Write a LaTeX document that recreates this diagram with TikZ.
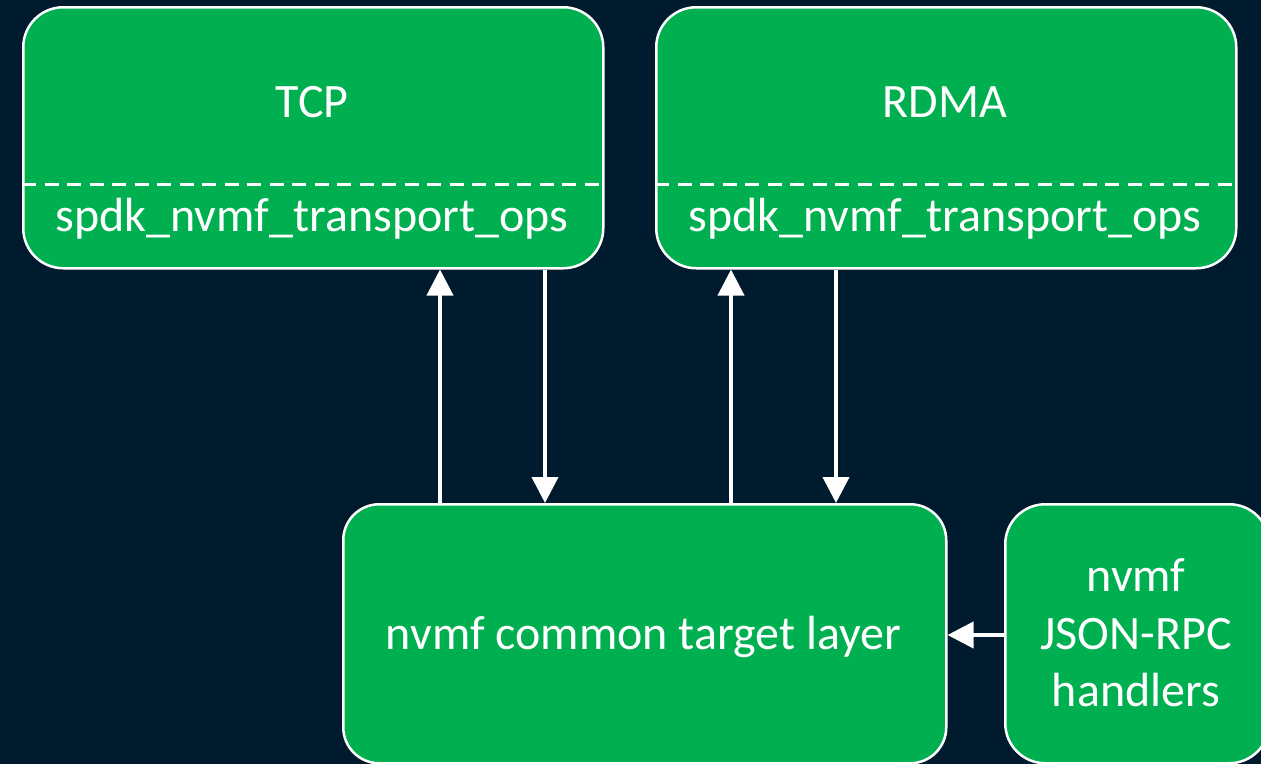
\documentclass[tikz,border=0pt]{standalone}
\usepackage{fontspec}
\setmainfont{Carlito}
\usetikzlibrary{arrows.meta}
\definecolor{navy}{HTML}{001A2E}
\definecolor{boxgreen}{HTML}{00B050}
\begin{document}
\begin{tikzpicture}[x=1pt,y=-1pt,
  block/.style={draw=white, line width=2.5pt, fill=boxgreen, rounded corners=40pt,
    inner sep=0pt, anchor=north west},
  label/.style={text=white, font=\fontsize{48pt}{57.5pt}\selectfont, anchor=base, inner sep=0pt,
    align=center},
  divider/.style={draw=white, line width=3pt, dash pattern=on 14pt off 8.5pt},
  arr/.style={draw=white, line width=4pt, -{Triangle[length=26pt,width=26pt]}}]
\fill[navy] (0,0) rectangle (1261,764);
\useasboundingbox (0,0) rectangle (1261,764);

% transport blocks
\node[block, minimum width=580pt, minimum height=261pt] (tcp) at (22,6) {};
\node[block, minimum width=580pt, minimum height=261pt] (rdma) at (655,6) {};
\node[label] (tcpname) at (312,117) {TCP};
\node[label] (rdmaname) at (945,117) {RDMA};
\node[label] (tcpops) at (312,231) {spdk\_nvmf\_transport\_ops};
\node[label] (rdmaops) at (945,231) {spdk\_nvmf\_transport\_ops};
\coordinate (sep) at (0,184);
\draw[divider] (tcp.west |- sep) -- (tcp.east |- sep);
\draw[divider] (rdma.west |- sep) -- (rdma.east |- sep);

% common layer and RPC handlers
\node[block, minimum width=603pt, minimum height=259pt, rounded corners=36pt] (core) at (342,503) {};
\node[block, minimum width=264pt, minimum height=259pt, rounded corners=40pt] (rpc) at (1004,503) {};
\node[label] (corename) at (643.5,649) {nvmf common target layer};
% base anchor of a multi-line node sits on its last line
\node[label] (rpcname) at (1136,706.5) {nvmf\\JSON-RPC\\handlers};

% connectors
\coordinate (tcpup) at (440,0);
\coordinate (tcpdown) at (545,0);
\coordinate (rdmaup) at (731,0);
\coordinate (rdmadown) at (836,0);
\coordinate (rpcline) at (0,635);
\draw[arr] (tcpup |- core.north) -- (tcpup |- tcp.south);
\draw[arr] (tcpdown |- tcp.south) -- (tcpdown |- core.north);
\draw[arr] (rdmaup |- core.north) -- (rdmaup |- rdma.south);
\draw[arr] (rdmadown |- rdma.south) -- (rdmadown |- core.north);
\draw[arr] (rpc.west |- rpcline) -- (core.east |- rpcline);
\end{tikzpicture}
\end{document}
